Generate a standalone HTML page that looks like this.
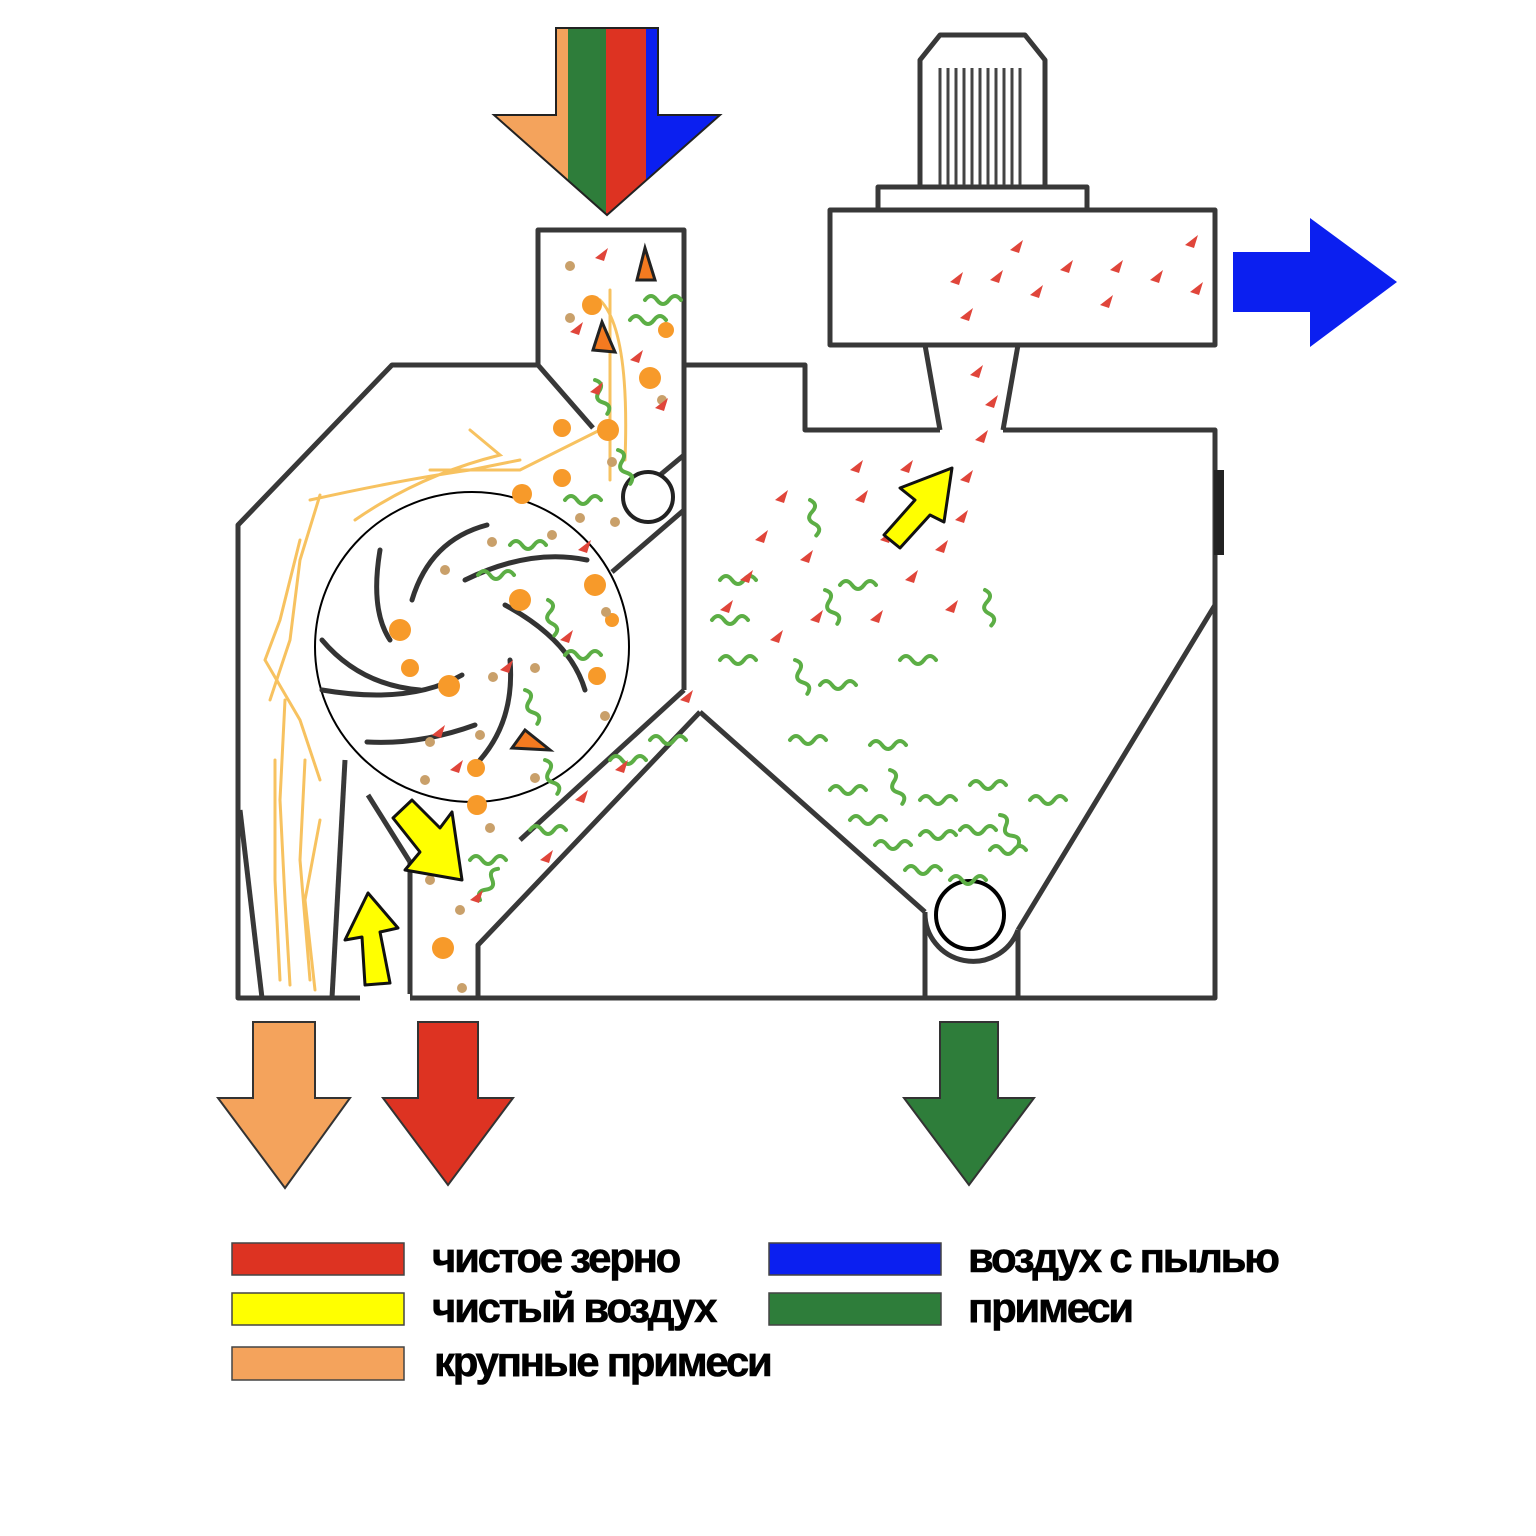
<!DOCTYPE html>
<html><head><meta charset="utf-8"><style>
html,body{margin:0;padding:0;background:#fff}
svg{display:block}
text{font-family:"Liberation Sans",sans-serif;font-weight:bold;font-size:42px;fill:#000;stroke:#000;stroke-width:0.6;letter-spacing:-2.3px}
</style></head><body>
<svg width="1536" height="1536" viewBox="0 0 1536 1536" xmlns="http://www.w3.org/2000/svg">
<defs>
<clipPath id="ta"><polygon points="556,28 658,28 658,115 720,115 607,215 494,115 556,115"/></clipPath>
<g id="sq"><path d="M0,0 q6,-8 12,0 t12,0 t12,0" fill="none" stroke="#5cae45" stroke-width="4" stroke-linecap="round"/></g>
<g id="rd"><path d="M0,0 l13,-10 l-4,13 z" fill="#e0453a"/></g>
</defs>

<g clip-path="url(#ta)">
<rect x="490" y="20" width="78" height="200" fill="#f4a35c"/>
<rect x="568" y="20" width="38" height="200" fill="#2e7d3a"/>
<rect x="606" y="20" width="40" height="200" fill="#dd3322"/>
<rect x="646" y="20" width="80" height="200" fill="#0b1ff0"/>
</g>
<polygon points="556,28 658,28 658,115 720,115 607,215 494,115 556,115" fill="none" stroke="#222" stroke-width="2"/>

<polygon points="1233,252 1310,252 1310,218 1397,282 1310,347 1310,312 1233,312" fill="#0b1ff0"/>

<polygon points="253,1022 315,1022 315,1098 350,1098 285,1188 218,1098 253,1098" fill="#f4a35c" stroke="#333" stroke-width="2"/>
<polygon points="418,1022 478,1022 478,1098 513,1098 448,1185 383,1098 418,1098" fill="#dd3322" stroke="#333" stroke-width="2"/>
<polygon points="940,1022 998,1022 998,1098 1034,1098 969,1185 904,1098 940,1098" fill="#2e7d3a" stroke="#333" stroke-width="2"/>

<g fill="none" stroke="#383838" stroke-width="5" stroke-linejoin="round">
<path d="M920,187 V60 L940,35 H1025 L1045,60 V187"/>
<rect x="878" y="187" width="209" height="23"/>
<rect x="830" y="210" width="385" height="135"/>
<path d="M925,345 L940,430 M1018,345 L1003,430"/>
<path d="M1003,430 H1215 V998 H238 V525 L392,365 H538 V230 H684 V690"/>
<path d="M538,365 L593,428"/>
<path d="M684,365 H805 V430 H940"/>
<path d="M1215,605 L1018,930"/>
<path d="M700,712 L925,912"/>
<path d="M925,912 A48,48 0 0 0 1018,930"/>
<path d="M925,912 V998 M1018,930 V998"/>
<path d="M478,998 V945 L700,712"/>
<path d="M520,840 L684,690"/>
<path d="M684,510 L612,572"/>
<path d="M684,455 L660,475"/>
<path d="M345,760 L332,998"/>
<path d="M368,795 L410,862 V998"/>
<path d="M240,810 L262,998"/>
</g>
<g stroke="#444" stroke-width="3">
<path d="M940,68V185M948,68V185M956,68V185M964,68V185M972,68V185M980,68V185M988,68V185M996,68V185M1004,68V185M1012,68V185M1020,68V185"/>
</g>
<rect x="1214" y="470" width="10" height="85" fill="#222"/>
<rect x="360" y="994" width="50" height="8" fill="#fff"/>
<circle cx="648" cy="497" r="25" fill="#fff" stroke="#222" stroke-width="4"/>
<circle cx="970" cy="915" r="34" fill="#fff" stroke="#000" stroke-width="4"/>

<g fill="none" stroke="#f7c260" stroke-width="3" stroke-linecap="round">
<path d="M310,500 Q400,480 470,470 L520,460 M320,495 L300,560 L290,640 L270,700 M355,520 Q420,475 500,455 L470,430 M430,470 L520,470 L600,430"/>
<path d="M300,540 L280,620 L265,660 L300,720 L320,780 M285,700 L280,800 L285,900 L290,985 M305,760 L300,860 L310,980 M275,760 L275,880 L280,980 M320,820 L305,900 L315,990"/>
<path d="M610,290 L610,480 M600,300 Q630,330 625,460"/>
</g>

<ellipse cx="472" cy="647" rx="157" ry="155" fill="none" stroke="#000" stroke-width="2"/>
<g fill="none" stroke="#333" stroke-width="5" stroke-linecap="round">
<path d="M380,550 Q370,610 390,640"/>
<path d="M487,525 Q430,540 412,600"/>
<path d="M465,580 Q530,548 587,560"/>
<path d="M505,605 Q570,640 585,690"/>
<path d="M510,660 Q515,720 480,760"/>
<path d="M475,725 Q420,745 367,742"/>
<path d="M462,675 Q410,705 322,690"/>
<path d="M322,640 Q360,685 420,690"/>
</g>
<polygon points="512,748 525,730 550,750" fill="#f47a20" stroke="#222" stroke-width="3"/>
<polygon points="637,280 645,248 655,280" fill="#f47a20" stroke="#222" stroke-width="3"/>
<polygon points="593,350 602,322 615,352" fill="#f47a20" stroke="#222" stroke-width="3"/>

<g fill="#f79a2a">
<circle cx="592" cy="305" r="10"/><circle cx="666" cy="330" r="8"/><circle cx="650" cy="378" r="11"/><circle cx="608" cy="430" r="11"/><circle cx="562" cy="428" r="9"/><circle cx="562" cy="478" r="9"/><circle cx="522" cy="494" r="10"/><circle cx="595" cy="585" r="11"/><circle cx="520" cy="600" r="11"/><circle cx="400" cy="630" r="11"/><circle cx="410" cy="668" r="9"/><circle cx="449" cy="686" r="11"/><circle cx="597" cy="676" r="9"/><circle cx="476" cy="768" r="9"/><circle cx="477" cy="805" r="10"/><circle cx="443" cy="948" r="11"/><circle cx="612" cy="620" r="7"/>
</g>
<g fill="#c9a06a">
<circle cx="570" cy="266" r="5"/><circle cx="570" cy="318" r="5"/><circle cx="662" cy="400" r="5"/><circle cx="612" cy="462" r="5"/><circle cx="580" cy="518" r="5"/><circle cx="615" cy="522" r="5"/><circle cx="552" cy="535" r="5"/><circle cx="492" cy="542" r="5"/><circle cx="445" cy="570" r="5"/><circle cx="606" cy="612" r="5"/><circle cx="535" cy="668" r="5"/><circle cx="493" cy="677" r="5"/><circle cx="480" cy="735" r="5"/><circle cx="430" cy="742" r="5"/><circle cx="425" cy="780" r="5"/><circle cx="535" cy="778" r="5"/><circle cx="490" cy="828" r="5"/><circle cx="430" cy="880" r="5"/><circle cx="460" cy="910" r="5"/><circle cx="462" cy="988" r="5"/><circle cx="605" cy="716" r="5"/>
</g>

<use href="#sq" x="645" y="300"/><use href="#sq" x="630" y="320"/><use href="#sq" x="595" y="380" transform="rotate(70 595 380)"/><use href="#sq" x="618" y="450" transform="rotate(70 618 450)"/>
<use href="#sq" x="565" y="500"/><use href="#sq" x="510" y="545"/><use href="#sq" x="478" y="575"/><use href="#sq" x="548" y="600" transform="rotate(80 548 600)"/><use href="#sq" x="565" y="655"/>
<use href="#sq" x="525" y="690" transform="rotate(70 525 690)"/><use href="#sq" x="545" y="760" transform="rotate(70 545 760)"/><use href="#sq" x="470" y="860"/><use href="#sq" x="480" y="900" transform="rotate(-60 480 900)"/><use href="#sq" x="530" y="830"/><use href="#sq" x="610" y="760"/><use href="#sq" x="650" y="740"/>
<use href="#sq" x="720" y="580"/><use href="#sq" x="712" y="620"/><use href="#sq" x="720" y="660"/><use href="#sq" x="810" y="500" transform="rotate(80 810 500)"/><use href="#sq" x="825" y="590" transform="rotate(70 825 590)"/><use href="#sq" x="840" y="585"/><use href="#sq" x="900" y="660"/><use href="#sq" x="795" y="660" transform="rotate(70 795 660)"/><use href="#sq" x="820" y="685"/><use href="#sq" x="985" y="590" transform="rotate(80 985 590)"/>
<use href="#sq" x="790" y="740"/><use href="#sq" x="870" y="745"/><use href="#sq" x="830" y="790"/><use href="#sq" x="850" y="820"/><use href="#sq" x="920" y="800"/><use href="#sq" x="970" y="785"/><use href="#sq" x="1030" y="800"/><use href="#sq" x="875" y="845"/><use href="#sq" x="920" y="835"/><use href="#sq" x="960" y="830"/><use href="#sq" x="990" y="850"/><use href="#sq" x="905" y="870"/><use href="#sq" x="950" y="880"/><use href="#sq" x="890" y="770" transform="rotate(70 890 770)"/><use href="#sq" x="1000" y="815" transform="rotate(60 1000 815)"/>

<g>
<use href="#rd" x="595" y="258"/><use href="#rd" x="570" y="332"/><use href="#rd" x="630" y="360"/><use href="#rd" x="655" y="408"/><use href="#rd" x="590" y="392"/><use href="#rd" x="578" y="550"/><use href="#rd" x="560" y="640"/><use href="#rd" x="500" y="670"/><use href="#rd" x="432" y="735"/><use href="#rd" x="450" y="770"/><use href="#rd" x="440" y="830"/><use href="#rd" x="470" y="900"/><use href="#rd" x="575" y="800"/><use href="#rd" x="615" y="770"/><use href="#rd" x="540" y="860"/><use href="#rd" x="680" y="700"/>
<use href="#rd" x="720" y="610"/><use href="#rd" x="740" y="580"/><use href="#rd" x="755" y="540"/><use href="#rd" x="775" y="500"/><use href="#rd" x="800" y="560"/><use href="#rd" x="810" y="620"/><use href="#rd" x="770" y="640"/><use href="#rd" x="850" y="470"/><use href="#rd" x="855" y="500"/><use href="#rd" x="870" y="620"/><use href="#rd" x="880" y="540"/><use href="#rd" x="900" y="470"/><use href="#rd" x="905" y="580"/><use href="#rd" x="935" y="550"/><use href="#rd" x="955" y="520"/><use href="#rd" x="945" y="610"/><use href="#rd" x="960" y="480"/><use href="#rd" x="975" y="440"/><use href="#rd" x="985" y="405"/><use href="#rd" x="970" y="375"/><use href="#rd" x="960" y="318"/><use href="#rd" x="950" y="282"/><use href="#rd" x="990" y="280"/><use href="#rd" x="1010" y="250"/><use href="#rd" x="1030" y="295"/><use href="#rd" x="1060" y="270"/><use href="#rd" x="1100" y="305"/><use href="#rd" x="1110" y="270"/><use href="#rd" x="1150" y="280"/><use href="#rd" x="1185" y="245"/><use href="#rd" x="1190" y="292"/>
</g>

<g fill="#ffff00" stroke="#111" stroke-width="3" stroke-linejoin="round">
<polygon points="365,985 390,983 380,932 398,928 368,893 345,940 362,937"/>
<polygon points="393,818 412,800 440,828 452,812 462,880 405,870 420,852"/>
<polygon points="884,535 900,548 930,515 944,522 952,468 900,488 915,500"/>
</g>

<rect x="232" y="1243" width="172" height="32" fill="#dd3322" stroke="#444" stroke-width="1.5"/>
<rect x="232" y="1293" width="172" height="32" fill="#ffff00" stroke="#444" stroke-width="1.5"/>
<rect x="232" y="1347" width="172" height="33" fill="#f4a35c" stroke="#444" stroke-width="1.5"/>
<rect x="769" y="1243" width="172" height="32" fill="#0b1ff0" stroke="#444" stroke-width="1.5"/>
<rect x="769" y="1293" width="172" height="32" fill="#2e7d3a" stroke="#444" stroke-width="1.5"/>
<text x="432" y="1272">чистое зерно</text>
<text x="432" y="1322">чистый воздух</text>
<text x="434" y="1376">крупные примеси</text>
<text x="968" y="1272">воздух с пылью</text>
<text x="968" y="1322">примеси</text>
</svg>
</body></html>
